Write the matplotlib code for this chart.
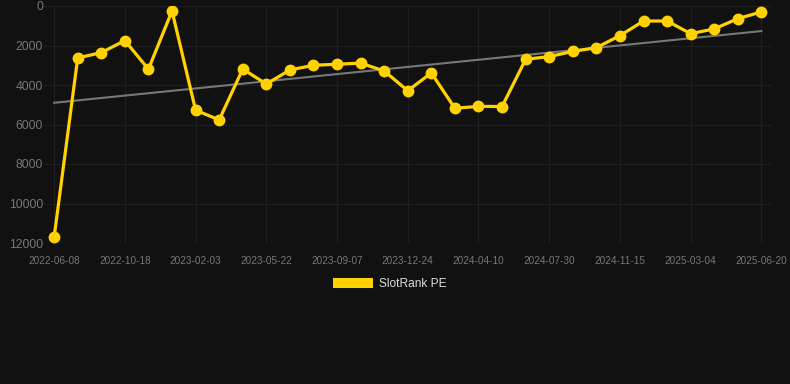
import numpy as np
import matplotlib.pyplot as plt
import matplotlib as mpl
from matplotlib.patches import Patch

mpl.rcParams['font.family'] = ['Liberation Sans', 'DejaVu Sans']

# tick labels shown on the category axis (every third point)
tick_labels = ['2022-06-08', '2022-10-18', '2023-02-03', '2023-05-22', '2023-09-07',
               '2023-12-24', '2024-04-10', '2024-07-30', '2024-11-15', '2025-03-04',
               '2025-06-20']

# SlotRank PE values, one per point
rank = [11700, 2630, 2360, 1750, 3200, 250, 5270, 5770, 3190, 3950,
        3240, 3000, 2950, 2890, 3290, 4290, 3390, 5180, 5080, 5090,
        2700, 2560, 2300, 2110, 1500, 760, 760, 1400, 1160, 640, 300]

# trend line end values
trend = [4900, 1270]

bg = '#111111'
yellow = '#FFD200'

fig = plt.figure(figsize=(7.9, 3.84), dpi=100, facecolor=bg)
ax = fig.add_axes([44/790, 1-243/384, (772-44)/790, (243-6)/384], facecolor=bg)

x = np.arange(len(rank))
ax.plot([x[0], x[-1]], trend, color='#777777', lw=1.5, zorder=2)
ax.plot(x, rank, color=yellow, lw=2.3, marker='o', markersize=7.5, zorder=3)

ax.set_xlim(-0.43, len(rank) - 1 + 0.45)
ax.set_ylim(12000, 0)
ax.set_yticks(np.arange(0, 12001, 2000))
ax.set_xticks(x[::3])
ax.set_xticklabels(tick_labels)

ax.grid(True, color='#1f1f1f', lw=0.8)
ax.set_axisbelow(True)
for s in ax.spines.values():
    s.set_visible(False)
ax.tick_params(axis='both', length=0, colors='#777777')
ax.tick_params(axis='y', labelsize=8.8, pad=0.6)
ax.tick_params(axis='x', labelsize=7.2, pad=9.5)

fig.legend(handles=[Patch(facecolor=yellow, edgecolor='none')], labels=['SlotRank PE'],
           loc='center', bbox_to_anchor=(389.5/790, 1-284/384), frameon=False,
           fontsize=8.6, labelcolor='#dddddd', handlelength=3.35, handleheight=0.92,
           handletextpad=0.5)

fig.savefig('out.png', dpi=100, facecolor=bg)
